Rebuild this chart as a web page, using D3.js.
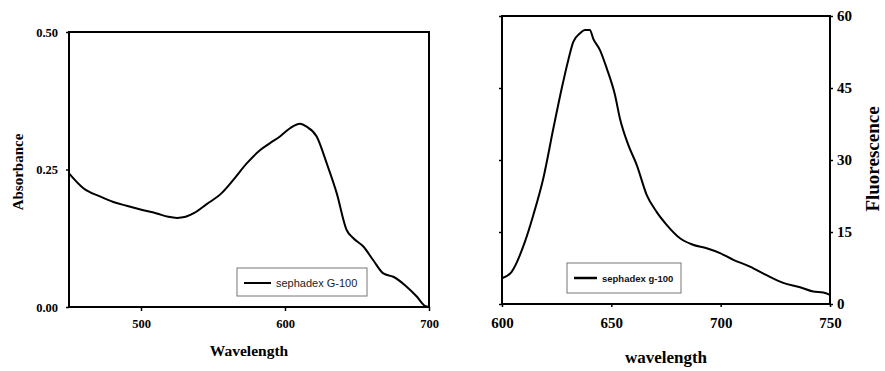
<!DOCTYPE html>
<html>
<head>
<meta charset="utf-8">
<script src="https://cdn.jsdelivr.net/npm/d3@7"></script>
<style>
  body { margin: 0; background: #fff; }
  .tick line { stroke: #000; stroke-width: 1.5px; }
  .domain { display: none; }
</style>
</head>
<body>
<script>
// absorbance spectrum (left)
var absWave = [450, 460, 471.5, 480.8, 490, 501.6, 511, 519, 525, 531, 537, 545.6, 556, 564.1, 573.4, 582.6, 589.6, 596.5, 603.5, 610.4, 615, 622, 629, 635.9, 642.8, 647.5, 654.4, 661.3, 668.3, 675.2, 684.5, 691.5, 697.2, 700];
var absVal = [0.243, 0.216, 0.201, 0.191, 0.184, 0.176, 0.170, 0.164, 0.162, 0.164, 0.171, 0.187, 0.207, 0.231, 0.261, 0.285, 0.298, 0.310, 0.325, 0.333, 0.328, 0.310, 0.261, 0.207, 0.140, 0.125, 0.110, 0.085, 0.061, 0.055, 0.037, 0.019, 0.002, 0.0];
var absXTicks = [500, 600, 700];
var absYTicks = [0, 0.25, 0.5];

// fluorescence spectrum (right)
var fluWave = [600, 604.4, 610.5, 614.3, 618.9, 623.5, 627.3, 630.3, 632.6, 635.7, 637.9, 640.2, 641.7, 644.8, 647.9, 651.7, 653.9, 657.8, 661.6, 666.2, 670.7, 675.3, 681.4, 687, 693.6, 699.7, 705.8, 713.4, 721, 728.6, 736.3, 742.3, 746.9, 750];
var fluVal = [5.35, 6.7, 13.0, 18.5, 26.2, 36.6, 44.9, 50.8, 54.6, 56.4, 57.1, 57.1, 55.3, 52.9, 49.1, 43.5, 38.7, 33.1, 29.0, 22.7, 19.2, 16.5, 13.7, 12.4, 11.6, 10.6, 9.2, 7.8, 6.0, 4.4, 3.5, 2.6, 2.4, 1.9];
var fluXTicks = [600, 650, 700, 750];
var fluYTicks = [0, 15, 30, 45, 60];

var serif = "'Liberation Serif', 'Times New Roman', serif";
var sans = "'Liberation Sans', Arial, sans-serif";

var svg = d3.select("body").append("svg")
    .attr("width", 885)
    .attr("height", 371);

function styleTicks(sel, size) {
  sel.selectAll("text")
    .attr("font-family", null).attr("font-size", null)
    .style("font-family", serif)
    .style("font-weight", "bold")
    .style("font-size", size)
    .attr("fill", "#000");
}

// ---------- left chart ----------
var L = {left: 69, right: 429, top: 32, bottom: 307};
var x1 = d3.scaleLinear().domain([450, 700]).range([L.left, L.right]);
var y1 = d3.scaleLinear().domain([0, 0.5]).range([L.bottom, L.top]);

var g1 = svg.append("g");

g1.append("g")
    .attr("transform", `translate(0, ${L.bottom})`)
    .call(d3.axisBottom(x1).tickValues(absXTicks).tickSize(4).tickPadding(8).tickFormat(d3.format("d")))
    .call(styleTicks, "12.5px");

g1.append("g")
    .attr("transform", `translate(${L.left}, 0)`)
    .call(d3.axisLeft(y1).tickValues(absYTicks).tickSize(3).tickPadding(8).tickFormat(d3.format(".2f")))
    .call(styleTicks, "12.5px");

g1.append("path")
    .datum(absWave)
    .attr("fill", "none")
    .attr("stroke", "#000")
    .attr("stroke-width", 2)
    .attr("stroke-linejoin", "round")
    .attr("d", d3.line().curve(d3.curveMonotoneX).x(d => x1(d)).y((d, i) => y1(absVal[i])));

g1.append("rect")
    .attr("x", L.left).attr("y", L.top)
    .attr("width", L.right - L.left).attr("height", L.bottom - L.top)
    .attr("fill", "none").attr("stroke", "#000").attr("stroke-width", 2);

// legend
g1.append("rect")
    .attr("x", 237).attr("y", 268).attr("width", 130).attr("height", 28)
    .attr("fill", "#fff").attr("stroke", "#777").attr("stroke-width", 1);
g1.append("line")
    .attr("x1", 244).attr("x2", 271).attr("y1", 283).attr("y2", 283)
    .attr("stroke", "#000").attr("stroke-width", 2);
g1.append("text")
    .attr("x", 276).attr("y", 287)
    .style("font-family", sans)
    .style("font-size", "11px")
    .attr("fill", "#222")
    .text("sephadex G-100");

g1.append("text")
    .attr("x", 249).attr("y", 356)
    .attr("text-anchor", "middle")
    .style("font-family", serif).style("font-weight", "bold")
    .style("font-size", "15.5px")
    .text("Wavelength");

g1.append("text")
    .attr("transform", "translate(23, 172) rotate(-90)")
    .attr("text-anchor", "middle")
    .style("font-family", serif).style("font-weight", "bold")
    .style("font-size", "15px")
    .text("Absorbance");

// ---------- right chart ----------
var R = {left: 502, right: 830, top: 16, bottom: 304};
var x2 = d3.scaleLinear().domain([600, 750]).range([R.left, R.right]);
var y2 = d3.scaleLinear().domain([0, 60]).range([R.bottom, R.top]);

var g2 = svg.append("g");

g2.append("g")
    .attr("transform", `translate(0, ${R.bottom})`)
    .call(d3.axisBottom(x2).tickValues(fluXTicks).tickSize(3).tickPadding(10).tickFormat(d3.format("d")))
    .call(styleTicks, "15px");

g2.append("g")
    .attr("transform", `translate(${R.left}, 0)`)
    .call(d3.axisLeft(y2).tickValues(fluYTicks).tickSize(3).tickFormat(""));

g2.append("g")
    .attr("transform", `translate(${R.right}, 0)`)
    .call(d3.axisRight(y2).tickValues(fluYTicks).tickSize(3).tickPadding(4).tickFormat(d3.format("d")))
    .call(styleTicks, "15px");

g2.append("path")
    .datum(fluWave)
    .attr("fill", "none")
    .attr("stroke", "#000")
    .attr("stroke-width", 2)
    .attr("stroke-linejoin", "round")
    .attr("d", d3.line().curve(d3.curveMonotoneX).x(d => x2(d)).y((d, i) => y2(fluVal[i])));

g2.append("rect")
    .attr("x", R.left).attr("y", R.top)
    .attr("width", R.right - R.left).attr("height", R.bottom - R.top)
    .attr("fill", "none").attr("stroke", "#000").attr("stroke-width", 2);

// legend
g2.append("rect")
    .attr("x", 567).attr("y", 263).attr("width", 114).attr("height", 30)
    .attr("fill", "#fff").attr("stroke", "#777").attr("stroke-width", 1);
g2.append("line")
    .attr("x1", 574).attr("x2", 597).attr("y1", 278).attr("y2", 278)
    .attr("stroke", "#000").attr("stroke-width", 2.5);
g2.append("text")
    .attr("x", 602).attr("y", 282)
    .style("font-family", sans)
    .style("font-size", "9.5px")
    .style("font-weight", "bold")
    .attr("fill", "#111")
    .text("sephadex g-100");

g2.append("text")
    .attr("x", 666).attr("y", 363)
    .attr("text-anchor", "middle")
    .style("font-family", serif).style("font-weight", "bold")
    .style("font-size", "17px")
    .text("wavelength");

g2.append("text")
    .attr("transform", "translate(879, 159) rotate(-90)")
    .attr("text-anchor", "middle")
    .style("font-family", serif).style("font-weight", "bold")
    .style("font-size", "19px")
    .text("Fluorescence");
</script>
</body>
</html>
